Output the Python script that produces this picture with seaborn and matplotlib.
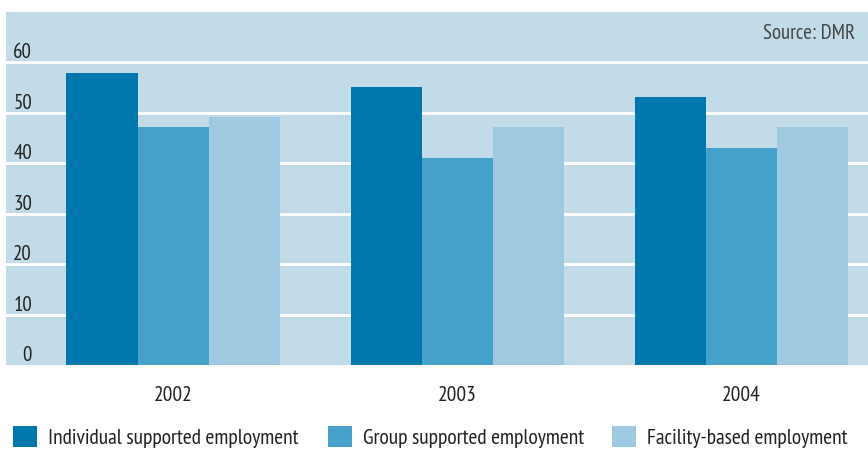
import matplotlib
matplotlib.use("Agg")
import matplotlib.pyplot as plt
import matplotlib.transforms as mtransforms
import pandas as pd
import seaborn as sns

# Data: employment outcomes by year
years = ["2002", "2003", "2004"]
individual = [57.9, 55.2, 53.2]
group = [47.2, 41.0, 43.0]
facility = [49.2, 47.2, 47.2]
series_names = ["Individual supported employment",
                "Group supported employment",
                "Facility-based employment"]
y_ticks = [0, 10, 20, 30, 40, 50, 60]
source_text = "Source: DMR"

colors = ["#0077ad", "#46a2cb", "#9fc8e1"]
bg = "#c2dbe9"

df = pd.DataFrame({
    "year": years * 3,
    "value": individual + group + facility,
    "series": [s for s in series_names for _ in years],
})

sns.set_theme(style="white")
plt.rcParams["font.family"] = ["PT Sans Narrow", "Fira Sans Condensed",
                               "Archivo Narrow", "DejaVu Sans"]

W, H = 868, 449
fig = plt.figure(figsize=(W / 100, H / 100), dpi=100)
ax = fig.add_axes([6 / W, (H - 365) / H, (W - 6) / W, (365 - 12) / H])
ax.set_facecolor(bg)

sns.barplot(data=df, x="year", y="value", hue="series", hue_order=series_names,
            palette=colors, width=0.75, saturation=1, gap=0, ax=ax,
            linewidth=0, zorder=3)

ax.set_ylim(0, 70)
ax.set_xlim(-0.588, 2.447)
for v in y_ticks[1:]:
    ax.axhline(v, color="white", lw=2.2, zorder=2)
ax.set_yticks([])
ax.set_xticks(range(len(years)))
ax.set_xticklabels(years, fontsize=15.5, color="#222222")
ax.tick_params(axis="x", length=0, pad=15)
ax.set_xlabel("")
ax.set_ylabel("")
for s in ax.spines.values():
    s.set_visible(False)

# y-axis values drawn inside the plot, sitting just above each gridline
lbl_tr = mtransforms.blended_transform_factory(
    mtransforms.IdentityTransform(), ax.transData)
lbl_tr = lbl_tr + mtransforms.ScaledTranslation(0, 4 / 100, fig.dpi_scale_trans)
for v in y_ticks:
    ax.text(32, v, str(v), transform=lbl_tr, ha="right", va="baseline",
            fontsize=15, color="#222222", zorder=4)

ax.text(0.985, 0.94, source_text, transform=ax.transAxes, ha="right",
        va="center", fontsize=15, color="#444444")

# one legend entry per series, each starting at its own column position
handles, labels = ax.get_legend_handles_labels()
ax.get_legend().remove()
entry_x = [13, 328, 612]
for h, lab, x0 in zip(handles, labels, entry_x):
    leg = fig.legend([h], [lab], loc="upper left",
                     bbox_to_anchor=(x0 / W, 1 - 426 / H), frameon=False,
                     fontsize=15.5, handlelength=1.12, handleheight=1.12,
                     handletextpad=0.5, borderpad=0, borderaxespad=0)
    for t in leg.get_texts():
        t.set_color("#222222")

fig.savefig("out.png", dpi=100, facecolor="white")
